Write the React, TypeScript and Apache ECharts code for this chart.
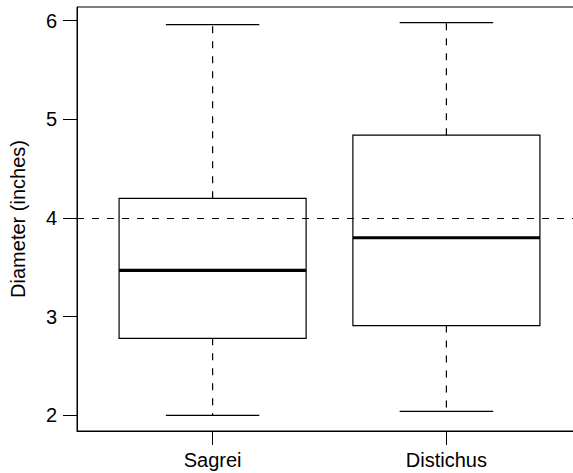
import React, { useEffect, useRef } from "react";
import * as echarts from "echarts";

const categories = ["Sagrei", "Distichus"];
const lowerWhisker = [2.0, 2.04];
const lowerHinge = [2.78, 2.91];
const medians = [3.47, 3.8];
const upperHinge = [4.2, 4.84];
const upperWhisker = [5.96, 5.98];
const referenceValue = 4;
const yTicks = [2, 3, 4, 5, 6];
const xTicks = [1, 2];

const FONT = "'Liberation Sans', Arial, Helvetica, sans-serif";
const INK = "#000";

export default function App() {
  const ref = useRef<HTMLDivElement>(null);

  useEffect(() => {
    if (!ref.current) return;
    const chart = echarts.init(ref.current, undefined, { renderer: "svg" });

    const dataMin = Math.min(...lowerWhisker);
    const dataMax = Math.max(...upperWhisker);
    const yPad = (dataMax - dataMin) * 0.04;
    const yMin = dataMin - yPad;
    const yMax = dataMax + yPad;
    const xMin = 0.5 - 0.08;
    const xMax = categories.length + 0.5 + 0.08;

    const data = categories.map((_, i) => [
      i + 1,
      lowerWhisker[i],
      lowerHinge[i],
      medians[i],
      upperHinge[i],
      upperWhisker[i],
    ]);

    const renderItem = (params: any, api: any) => {
      const x = api.value(0);
      const low = api.coord([x, api.value(1)]);
      const q1 = api.coord([x, api.value(2)]);
      const med = api.coord([x, api.value(3)]);
      const q3 = api.coord([x, api.value(4)]);
      const high = api.coord([x, api.value(5)]);
      const cx = low[0];
      const boxHalf = api.size([0.4, 0])[0];
      const stapleHalf = api.size([0.2, 0])[0];
      const dashed = { stroke: INK, lineWidth: 1.2, lineDash: [7, 8], fill: null };
      const solid = { stroke: INK, lineWidth: 1.2, fill: null };
      return {
        type: "group",
        children: [
          { type: "line", shape: { x1: cx, y1: q3[1], x2: cx, y2: high[1] }, style: dashed },
          { type: "line", shape: { x1: cx, y1: q1[1], x2: cx, y2: low[1] }, style: dashed },
          { type: "line", shape: { x1: cx - stapleHalf, y1: high[1], x2: cx + stapleHalf, y2: high[1] }, style: solid },
          { type: "line", shape: { x1: cx - stapleHalf, y1: low[1], x2: cx + stapleHalf, y2: low[1] }, style: solid },
          {
            type: "rect",
            shape: { x: cx - boxHalf, y: q3[1], width: boxHalf * 2, height: q1[1] - q3[1] },
            style: { stroke: INK, lineWidth: 1.2, fill: "none" },
          },
          {
            type: "line",
            shape: { x1: cx - boxHalf, y1: med[1], x2: cx + boxHalf, y2: med[1] },
            style: { stroke: INK, lineWidth: 3.2 },
          },
        ],
      };
    };

    chart.setOption({
      animation: false,
      backgroundColor: "#fff",
      textStyle: { fontFamily: FONT },
      grid: {
        left: 77,
        top: 7,
        width: 505,
        height: 424,
        show: true,
        borderColor: INK,
        borderWidth: 1,
        backgroundColor: "transparent",
        containLabel: false,
        outerBoundsMode: "none",
      },
      xAxis: {
        type: "value",
        min: xMin,
        max: xMax,
        splitLine: { show: false },
        axisLine: { show: true, lineStyle: { color: INK, width: 1 } },
        axisTick: { show: true, length: 14, customValues: xTicks, lineStyle: { color: INK, width: 1 } },
        axisLabel: {
          show: true,
          customValues: xTicks,
          margin: 19,
          fontSize: 20,
          color: INK,
          fontFamily: FONT,
          formatter: (v: number) => categories[Math.round(v) - 1] ?? "",
        },
      },
      yAxis: {
        type: "value",
        min: yMin,
        max: yMax,
        name: "Diameter (inches)",
        nameLocation: "middle",
        nameGap: 49,
        nameTextStyle: { fontSize: 20, color: INK, fontFamily: FONT },
        splitLine: { show: false },
        axisLine: { show: true, lineStyle: { color: INK, width: 1 } },
        axisTick: { show: true, length: 14, customValues: yTicks, lineStyle: { color: INK, width: 1 } },
        axisLabel: {
          show: true,
          customValues: yTicks,
          margin: 20,
          fontSize: 20,
          color: INK,
          fontFamily: FONT,
          formatter: (v: number) => String(Math.round(v)),
        },
      },
      series: [
        {
          type: "custom",
          renderItem,
          data,
          encode: { x: 0, y: [1, 2, 3, 4, 5] },
          markLine: {
            silent: true,
            symbol: ["none", "none"],
            label: { show: false },
            lineStyle: { color: INK, type: [7, 8], width: 1.2 },
            data: [{ yAxis: referenceValue }],
          },
        },
      ],
    });

    return () => chart.dispose();
  }, []);

  return (
    <div
      ref={ref}
      style={{ position: "fixed", left: 0, top: 0, width: 573, height: 473, background: "#fff" }}
    />
  );
}
